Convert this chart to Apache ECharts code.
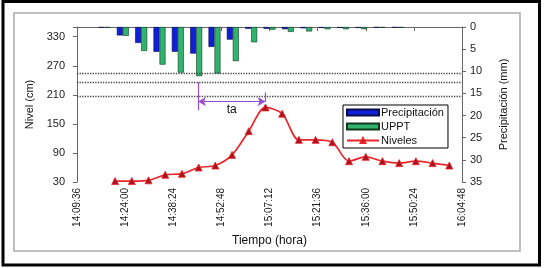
<!DOCTYPE html>
<html>
<head>
<meta charset="utf-8">
<script src="https://cdn.jsdelivr.net/npm/echarts@6/dist/echarts.min.js"></script>
<style>
  html, body { margin: 0; padding: 0; background: #fff; }
  #chart { width: 545px; height: 268px; }
</style>
</head>
<body>
<div id="chart"></div>
<script>
// horas de medición (cada 5 min)
const horas = ['14:21','14:26','14:31','14:36','14:41','14:46','14:51','14:56','15:01','15:06','15:11',
  '15:16','15:21','15:26','15:31','15:36','15:41','15:46','15:51','15:56','16:01'];
// nivel (cm)
const niveles = [32, 32, 33.5, 45, 47, 60, 64, 86, 135, 184, 171, 117, 117, 112, 73, 82, 73, 69, 73, 69, 64];
// precipitación (mm)
const precipitacion = [0, 0.15, 1.9, 3.6, 5.6, 5.6, 6.0, 4.5, 2.85, 0.4, 0.4, 0.5, 0.3, 0.2, 0.2, 0.2, 0.15, 0.15, 0, 0, 0];
const uppt = [0, 0.15, 2.0, 5.4, 8.5, 10.3, 11.1, 10.5, 7.7, 3.45, 0.6, 1.1, 1.0, 0.5, 0.5, 0.5, 0.15, 0.15, 0, 0, 0];
// umbrales (cm)
const umbrales = [255, 236, 207];
// tiempo de respuesta "ta"
const taInicio = '14:45:48';
const taFin = '15:06:00';
const taNivel = 196;

const toSeg = (h) => {
  const p = h.split(':').map(Number);
  return p[0] * 3600 + p[1] * 60 + (p[2] || 0);
};
const fmtHora = (s) => {
  const h = Math.floor(s / 3600), m = Math.floor((s % 3600) / 60), ss = Math.round(s % 60);
  return h + ':' + String(m).padStart(2, '0') + ':' + String(ss).padStart(2, '0');
};
// sin barra cuando el valor es 0 (evita el borde suelto arriba)
const sinCeros = (arr) => arr.map((v) => v === 0 ? '-' : v);

const FONT = 'Liberation Sans';
const morado = '#9a4fd0';
const chart = echarts.init(document.getElementById('chart'), null, { renderer: 'canvas' });

const option = {
  animation: false,
  backgroundColor: '#fff',
  textStyle: { fontFamily: FONT },
  graphic: [
    { type: 'rect', shape: { x: 3, y: 1.5, width: 536.5, height: 263.5 }, style: { fill: 'none', stroke: '#000', lineWidth: 3 } },
    { type: 'rect', shape: { x: 14, y: 13, width: 506, height: 238 }, style: { fill: 'none', stroke: '#aaa', lineWidth: 1.5 } }
  ],
  grid: { left: 77, right: 83, top: 27, height: 155 },
  legend: {
    orient: 'vertical',
    left: 343, top: 105,
    itemWidth: 32, itemHeight: 6, itemGap: 3,
    padding: [2, 4, 2, 3],
    borderColor: '#000', borderWidth: 1,
    backgroundColor: '#fff',
    textStyle: { fontFamily: FONT, fontSize: 11, color: '#111', padding: [0, 0, 0, -3] },
    data: [
      { name: 'Precipitación', icon: 'rect' },
      { name: 'UPPT', icon: 'rect' },
      { name: 'Niveles' }
    ]
  },
  xAxis: [
    {
      type: 'value',
      min: toSeg('14:09:36'), max: toSeg('16:04:48'), interval: 864,
      name: 'Tiempo (hora)', nameLocation: 'middle', nameGap: 51,
      nameTextStyle: { fontFamily: FONT, fontSize: 12, color: '#111' },
      axisLine: { lineStyle: { color: '#666', width: 1 } },
      axisTick: { show: true, length: 4, lineStyle: { color: '#666' } },
      axisLabel: { rotate: 90, fontSize: 10, color: '#222', fontFamily: FONT, margin: 6, formatter: fmtHora },
      splitLine: { show: false }
    },
    {
      type: 'category', show: false, data: horas, boundaryGap: true
    }
  ],
  yAxis: [
    {
      type: 'value', min: 30, max: 350, interval: 60,
      name: 'Nivel (cm)', nameLocation: 'middle', nameGap: 38, nameRotate: 90,
      nameTextStyle: { fontFamily: FONT, fontSize: 11, color: '#111' },
      axisLine: { show: true, lineStyle: { color: '#666' } },
      axisTick: { show: true, length: 4, lineStyle: { color: '#666' } },
      axisLabel: { fontSize: 11, color: '#222', fontFamily: FONT, margin: 12, formatter: (v) => v === 350 ? '' : v },
      splitLine: { show: false }
    },
    {
      type: 'value', inverse: true, min: 0, max: 35, interval: 5, position: 'right',
      name: 'Precipitación (mm)', nameLocation: 'middle', nameGap: 36, nameRotate: 90,
      nameTextStyle: { fontFamily: FONT, fontSize: 11, color: '#111' },
      axisLine: { show: true, lineStyle: { color: '#666' } },
      axisTick: { show: true, length: 4, lineStyle: { color: '#666' } },
      axisLabel: { fontSize: 11, color: '#222', fontFamily: FONT, margin: 8 },
      splitLine: { show: false }
    }
  ],
  series: [
    {
      name: 'Precipitación', type: 'bar', xAxisIndex: 1, yAxisIndex: 1,
      data: sinCeros(precipitacion), barWidth: 6, barGap: '0%',
      itemStyle: { color: '#1020d8', borderColor: '#0a0a50', borderWidth: 0.6 }
    },
    {
      name: 'UPPT', type: 'bar', xAxisIndex: 1, yAxisIndex: 1,
      data: sinCeros(uppt), barWidth: 6, barGap: '0%',
      itemStyle: { color: '#2fb36e', borderColor: '#0f3a20', borderWidth: 0.6 }
    },
    {
      name: 'Niveles', type: 'line', xAxisIndex: 0, yAxisIndex: 0,
      data: horas.map((h, i) => [toSeg(h), niveles[i]]),
      smooth: 0.3,
      symbol: 'triangle', symbolSize: 7,
      lineStyle: { color: '#e8262b', width: 1.7 },
      itemStyle: { color: '#a8141c', borderColor: '#e8262b', borderWidth: 0.8 },
      markLine: {
        silent: true, symbol: 'none', animation: false,
        label: { show: false },
        lineStyle: { type: 'dotted', color: '#444', width: 1.3 },
        data: [
          ...umbrales.map((v) => ({ yAxis: v })),
          [
            { coord: [toSeg(taInicio), 236], lineStyle: { type: 'solid', color: morado, width: 1.2 } },
            { coord: [toSeg(taInicio), 178] }
          ],
          [
            { coord: [toSeg(taFin), 215], lineStyle: { type: 'solid', color: morado, width: 1.2 } },
            { coord: [toSeg(taFin), 196] }
          ],
          [
            {
              coord: [toSeg(taInicio), taNivel], symbol: 'arrow', symbolSize: [7, 8],
              lineStyle: { type: 'solid', color: morado, width: 1.2 },
              label: { show: true, formatter: 'ta', position: 'insideMiddleBottom', color: '#111', fontSize: 12, fontFamily: FONT, distance: 2 }
            },
            { coord: [toSeg(taFin), taNivel], symbol: 'arrow', symbolSize: [7, 8] }
          ]
        ]
      }
    }
  ]
};

chart.setOption(option);
</script>
</body>
</html>
